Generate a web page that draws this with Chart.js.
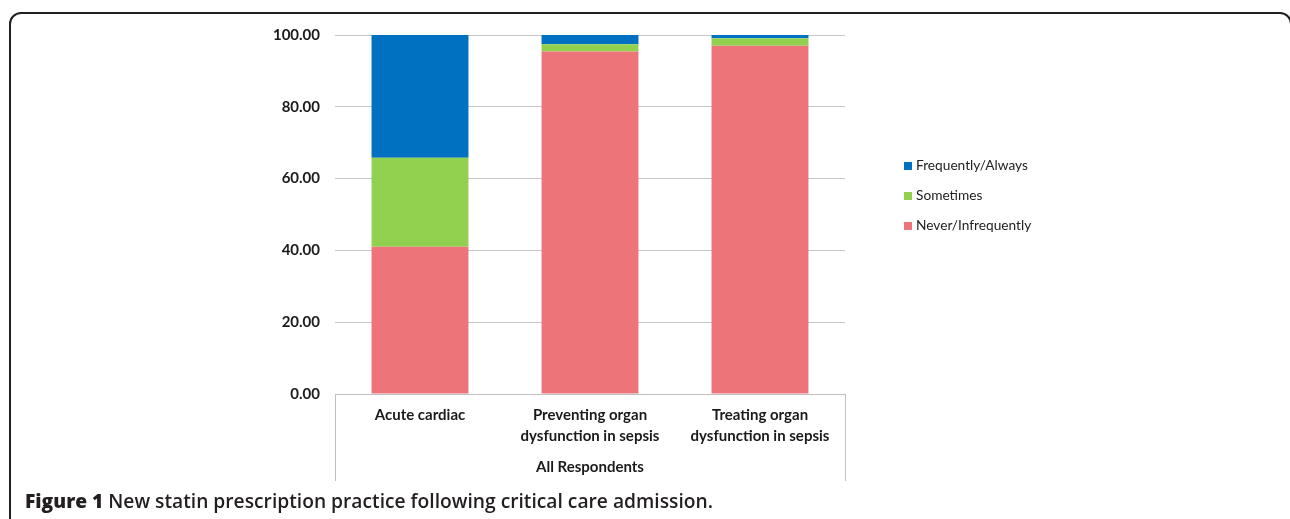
<!DOCTYPE html>
<html>
<head>
<meta charset="utf-8">
<script src="https://cdn.jsdelivr.net/npm/chart.js@4/dist/chart.umd.min.js"></script>
<style>
  html, body { margin:0; padding:0; background:#fff; width:1290px; height:519px; overflow:hidden; }
  #frame { position:absolute; left:9px; top:12px; width:1283px; height:600px; border:2px solid #231f20; border-radius:12px; box-sizing:border-box; }
  #c { position:absolute; left:0; top:0; }
  #caption { position:absolute; left:25px; top:491px; line-height:20px; font-family:"Open Sans","Liberation Sans",sans-serif; font-size:20px; font-weight:600; color:#231f20; white-space:nowrap; transform-origin:0 0; }
  #caption b { font-weight:800; }
</style>
</head>
<body>
<div id="frame"></div>
<canvas id="c" width="1290" height="519"></canvas>
<div id="caption"><b>Figure 1</b> New statin prescription practice following critical care admission.</div>
<script>
const categories = [["Acute cardiac"], ["Preventing organ", "dysfunction in sepsis"], ["Treating organ", "dysfunction in sepsis"]];
const groupLabel = "All Respondents";
const neverInfrequently = [41.0, 95.4, 97.0];
const sometimes = [24.8, 2.0, 2.1];
const frequentlyAlways = [34.2, 2.6, 0.9];
const yTicks = [0, 20, 40, 60, 80, 100];

const colors = { never: "#ed757a", sometimes: "#92d050", freq: "#0070c0" };
const labelFont = "Lato, 'Open Sans', sans-serif";

const extras = {
  id: "extras",
  afterDraw(chart) {
    const ctx = chart.ctx;
    const a = chart.chartArea;
    ctx.save();
    ctx.strokeStyle = "#bfbfbf";
    ctx.lineWidth = 1;
    [a.left, a.right].forEach(x => {
      ctx.beginPath();
      ctx.moveTo(Math.round(x) + 0.5, a.bottom);
      ctx.lineTo(Math.round(x) + 0.5, 481);
      ctx.stroke();
    });
    ctx.fillStyle = "#1a1a1a";
    ctx.font = "bold 15px " + labelFont;
    ctx.textAlign = "center";
    ctx.textBaseline = "middle";
    ctx.fillText(groupLabel, (a.left + a.right) / 2, 467);
    const items = chart.data.datasets.slice().reverse();
    ctx.font = "13.7px " + labelFont;
    ctx.textAlign = "left";
    items.forEach((ds, i) => {
      const y = 166 + i * 30;
      ctx.fillStyle = ds.backgroundColor;
      ctx.fillRect(904, y - 4, 8, 8);
      ctx.fillStyle = "#222";
      ctx.fillText(ds.label, 916, y);
    });
    ctx.restore();
  }
};

new Chart(document.getElementById("c"), {
  type: "bar",
  data: {
    labels: categories,
    datasets: [
      { label: "Never/Infrequently", data: neverInfrequently, backgroundColor: colors.never },
      { label: "Sometimes", data: sometimes, backgroundColor: colors.sometimes },
      { label: "Frequently/Always", data: frequentlyAlways, backgroundColor: colors.freq }
    ]
  },
  options: {
    responsive: false,
    animation: false,
    layout: { padding: { left: 0, right: 445, top: 35, bottom: 0 } },
    plugins: { legend: { display: false }, tooltip: { enabled: false } },
    datasets: { bar: { categoryPercentage: 1, barPercentage: 0.57 } },
    scales: {
      x: {
        stacked: true,
        grid: { display: false, drawTicks: false },
        border: { display: true, color: "#bfbfbf", width: 1 },
        ticks: { color: "#1a1a1a", font: { family: labelFont, size: 15, weight: "bold", lineHeight: 1.4 }, padding: 11, maxRotation: 0, autoSkip: false },
        afterFit(s) { s.height = 125; }
      },
      y: {
        stacked: true,
        min: 0, max: 100,
        afterBuildTicks(s) { s.ticks = yTicks.map(v => ({ value: v })); },
        grid: { color: "#c6c6c6", lineWidth: 1, drawTicks: false },
        border: { display: false },
        ticks: { color: "#1a1a1a", padding: 15, font: { family: labelFont, size: 15, weight: "bold" }, callback: v => Number(v).toFixed(2) },
        afterFit(s) { s.width = 335; }
      }
    }
  },
  plugins: [extras]
});

const cap = document.getElementById("caption");
const w = cap.getBoundingClientRect().width;
cap.style.transform = "scaleX(" + (688 / w) + ")";
</script>
</body>
</html>
